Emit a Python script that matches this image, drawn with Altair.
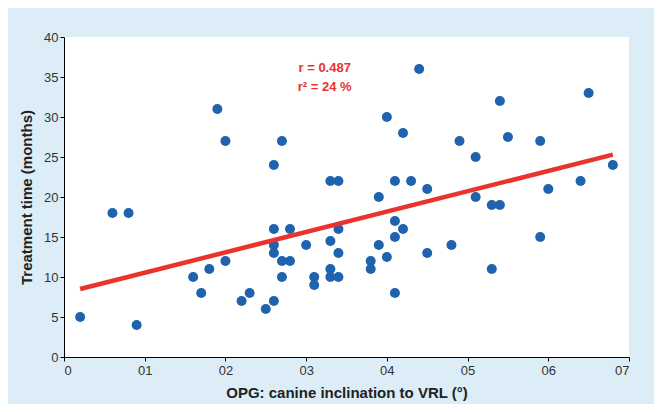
import altair as alt
import pandas as pd

# Scatter data (x in degrees, y in months)
xs = [2, 6, 8, 9, 16, 17, 18, 19, 20, 20, 22, 23, 25, 26, 26, 26, 26, 26,
      27, 27, 27, 28, 28, 30, 31, 31, 33, 34, 33, 33, 33, 34, 34, 34, 38, 38,
      39, 39, 40, 40, 41, 41, 41, 41, 42, 42, 43, 44, 45, 45, 48, 49, 51, 51,
      53, 54, 53, 54, 55, 59, 59, 60, 64, 65, 68]
ys = [5, 18, 18, 4, 10, 8, 11, 31, 27, 12, 7, 8, 6, 24, 16, 14, 13, 7,
      27, 12, 10, 16, 12, 14, 10, 9, 22, 22, 14.5, 11, 10, 16, 13, 10, 12, 11,
      20, 14, 30, 12.5, 22, 17, 15, 8, 28, 16, 22, 36, 21, 13, 14, 27, 25, 20,
      19, 19, 11, 32, 27.5, 27, 15, 21, 22, 33, 24]

# Regression line end points
line_x = [2, 68]
line_y = [8.5, 25.3]

# Annotation
ann_x = [32.3, 32.3]
ann_y = [36.1, 33.8]
ann_text = ["r = 0.487", "r\u00b2 = 24 %"]

x_ticks = [0, 10, 20, 30, 40, 50, 60, 70]
y_ticks = [0, 5, 10, 15, 20, 25, 30, 35, 40]

pts = pd.DataFrame({"x": xs, "y": ys})
ln = pd.DataFrame({"x": line_x, "y": line_y})
ann = pd.DataFrame({"x": ann_x, "y": ann_y, "t": ann_text})

xscale = alt.Scale(domain=[0, 70], nice=False, zero=False)
yscale = alt.Scale(domain=[0, 40], nice=False)

LABEL_FONT = "Liberation Sans Narrow, Liberation Sans, Arial, sans-serif"

xaxis = alt.Axis(values=x_ticks, title="OPG: canine inclination to VRL (\u00b0)",
                 labelExpr="datum.value == 0 ? '0' : '0' + datum.value / 10",
                 grid=False, tickColor="#000", domainColor="#000", tickSize=4,
                 labelOverlap=False,
                 labelFont=LABEL_FONT, labelFontSize=13, labelColor="#333",
                 labelPadding=3, titleFont="Liberation Sans", titleFontSize=15,
                 titleFontWeight="bold", titleColor="#222", titlePadding=8)
yaxis = alt.Axis(values=y_ticks, title="Treatment time (months)",
                 grid=False, tickColor="#000", domainColor="#000", tickSize=4,
                 labelOverlap=False,
                 labelFont=LABEL_FONT, labelFontSize=13, labelColor="#333",
                 labelPadding=2, titleFont="Liberation Sans", titleFontSize=15,
                 titleFontWeight="bold", titleColor="#222", titlePadding=9)

X = alt.X("x:Q", scale=xscale, axis=xaxis)
Y = alt.Y("y:Q", scale=yscale, axis=yaxis)

points = alt.Chart(pts).mark_circle(size=100, opacity=1, color="#1f63ae").encode(x=X, y=Y)

line = alt.Chart(ln).mark_line(color="#e8342c", strokeWidth=4.5, strokeCap="butt").encode(x=X, y=Y)

text = alt.Chart(ann).mark_text(color="#e8342c", font="Liberation Sans", fontSize=13,
                                fontWeight="bold", align="center", baseline="middle").encode(
    x=X, y=Y, text="t:N")

chart = alt.layer(points, line, text).properties(
    width=565, height=320,
    background="#dcedf8",
    padding={"left": 56, "top": 29, "right": 25, "bottom": 47},
    autosize=alt.AutoSizeParams(type="none"),
).configure_view(fill="white", stroke=None)

chart.save("out.html", embed_options={"renderer": "svg", "actions": False})
